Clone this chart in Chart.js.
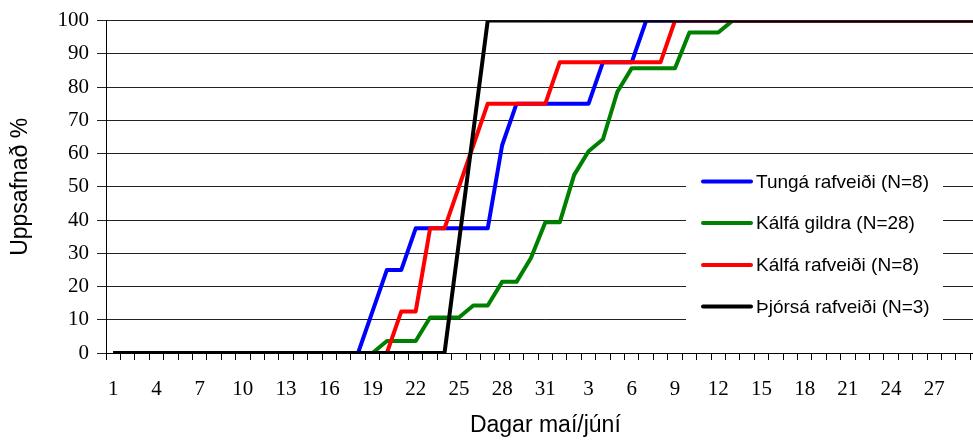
<!DOCTYPE html>
<html>
<head>
<meta charset="utf-8">
<script src="https://cdn.jsdelivr.net/npm/chart.js@4/dist/chart.umd.min.js"></script>
<style>
  html, body { margin: 0; padding: 0; background: #fff; overflow: hidden; }
  #wrap { width: 1000px; height: 443px; }
</style>
</head>
<body>
<div id="wrap"><canvas id="c" width="1000" height="443"></canvas></div>
<script>
// Categories: days of May (1-31) and June (1-30)
const days = ['1','2','3','4','5','6','7','8','9','10','11','12','13','14','15','16','17','18','19','20','21','22','23','24','25','26','27','28','29','30','31',
              '1','2','3','4','5','6','7','8','9','10','11','12','13','14','15','16','17','18','19','20','21','22','23','24','25','26','27','28','29','30'];

// Tick labels shown (every third day)
const tickLabels = ['1','4','7','10','13','16','19','22','25','28','31','3','6','9','12','15','18','21','24','27'];

// Series names
const seriesNames = ['Tungá rafveiði (N=8)', 'Kálfá gildra (N=28)', 'Kálfá rafveiði (N=8)', 'Þjórsá rafveiði (N=3)'];
const seriesColors = ['#0000FF', '#008000', '#FF0000', '#000000'];

// Cumulative percentages
const tungaRaf = [0,0,0,0,0,0,0,0,0,0,0,0,0,0,0,0,0,0,12.5,25,25,37.5,37.5,37.5,37.5,37.5,37.5,62.5,75,75,75,
                  75,75,75,87.5,87.5,87.5,100,100,100,100,100,100,100,100,100,100,100,100,100,100,100,100,100,100,100,100,100,100,100,100];
const kalfaGildra = [0,0,0,0,0,0,0,0,0,0,0,0,0,0,0,0,0,0,0,3.6,3.6,3.6,10.7,10.7,10.7,14.3,14.3,21.4,21.4,28.6,39.3,
                  39.3,53.6,60.7,64.3,78.6,85.7,85.7,85.7,85.7,96.4,96.4,96.4,100,100,100,100,100,100,100,100,100,100,100,100,100,100,100,100,100,100];
const kalfaRaf = [0,0,0,0,0,0,0,0,0,0,0,0,0,0,0,0,0,0,0,0,12.5,12.5,37.5,37.5,50,62.5,75,75,75,75,75,
                  87.5,87.5,87.5,87.5,87.5,87.5,87.5,87.5,100,100,100,100,100,100,100,100,100,100,100,100,100,100,100,100,100,100,100,100,100,100];
const thjorsaRaf = [0,0,0,0,0,0,0,0,0,0,0,0,0,0,0,0,0,0,0,0,0,0,0,0,33.3,66.7,100,100,100,100,100,
                  100,100,100,100,100,100,100,100,100,100,100,100,100,100,100,100,100,100,100,100,100,100,100,100,100,100,100,100,100,100];

const seriesValues = [tungaRaf, kalfaGildra, kalfaRaf, thjorsaRaf];
const yTicks = [0,10,20,30,40,50,60,70,80,90,100];

const legendPlugin = {
  id: 'insideLegend',
  beforeDatasetsDraw(chart) {
    const ctx = chart.ctx;
    ctx.save();
    ctx.fillStyle = '#fff';
    ctx.fillRect(686, 160, 257, 172);
    ctx.font = '19px "Liberation Sans", Arial, sans-serif';
    ctx.textBaseline = 'middle';
    ctx.textAlign = 'left';
    const rows = [181.5, 223, 265, 306.5];
    chart.data.datasets.forEach((ds, i) => {
      const y = rows[i];
      ctx.strokeStyle = ds.borderColor;
      ctx.lineWidth = 4;
      ctx.lineCap = 'round';
      ctx.beginPath();
      ctx.moveTo(703, y);
      ctx.lineTo(751, y);
      ctx.stroke();
      ctx.fillStyle = '#000';
      ctx.fillText(ds.label, 756, y + 1);
    });
    ctx.restore();
  }
};

new Chart(document.getElementById('c'), {
  type: 'line',
  data: {
    labels: days,
    datasets: seriesNames.map((name, i) => ({
      label: name,
      data: seriesValues[i],
      borderColor: seriesColors[i],
      backgroundColor: seriesColors[i],
      borderWidth: 4,
      pointRadius: 0,
      tension: 0,
      fill: false,
      borderJoinStyle: 'round',
      order: 3 - i
    }))
  },
  options: {
    responsive: false,
    animation: false,
    devicePixelRatio: 1,
    layout: { padding: { top: 19, right: 15.3, bottom: 0, left: 0 } },
    plugins: { legend: { display: false }, tooltip: { enabled: false } },
    scales: {
      x: {
        type: 'category',
        offset: true,
        afterFit: s => { s.height = 90; },
        grid: { offset: true, drawOnChartArea: false, drawTicks: true, tickLength: 7, color: '#000', lineWidth: 1 },
        border: { display: true, color: '#000', width: 1 },
        ticks: {
          autoSkip: false, maxRotation: 0, minRotation: 0, padding: 17,
          color: '#000',
          font: { family: '"Liberation Serif", "Times New Roman", serif', size: 21 },
          callback: (v, i) => {
            const k = i / 3;
            return Number.isInteger(k) && k < tickLabels.length ? tickLabels[k] : '';
          }
        },
        title: {
          display: true, text: 'Dagar maí/júní', color: '#000',
          font: { family: '"Liberation Sans", Arial, sans-serif', size: 23 },
          padding: { top: 0, bottom: 3.4 }
        }
      },
      y: {
        min: 0, max: 100,
        afterFit: s => { s.width = 106; },
        afterBuildTicks: s => { s.ticks = yTicks.map(v => ({ value: v })); },
        grid: { drawOnChartArea: true, drawTicks: true, tickLength: 9, color: '#222', lineWidth: 1 },
        border: { display: true, color: '#000', width: 1 },
        ticks: {
          padding: 8, color: '#000',
          font: { family: '"Liberation Serif", "Times New Roman", serif', size: 21 }
        },
        title: {
          display: true, text: 'Uppsafnað %', color: '#000',
          font: { family: '"Liberation Sans", Arial, sans-serif', size: 23 },
          padding: { top: 6.4, bottom: 0 }
        }
      }
    }
  },
  plugins: [legendPlugin]
});
</script>
</body>
</html>
